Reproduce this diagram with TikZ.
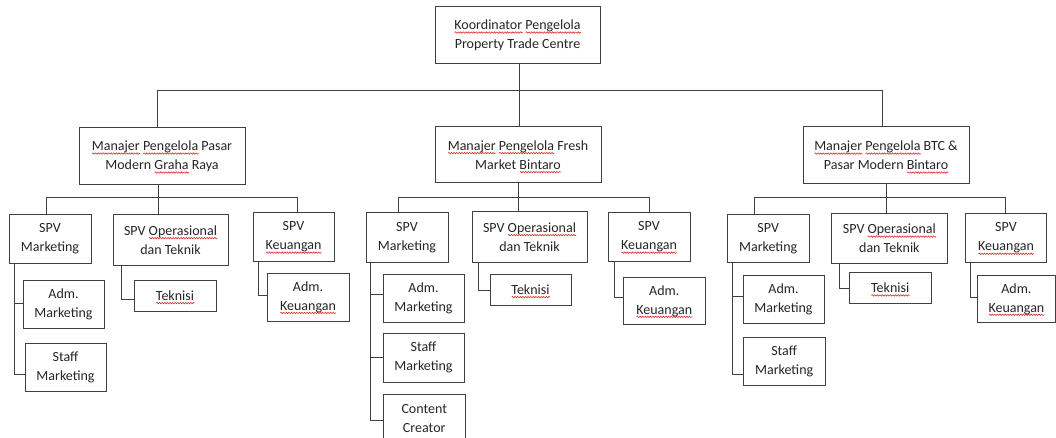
\documentclass[tikz,border=0pt]{standalone}
\usepackage{fontspec}
\setmainfont{Carlito}
\usetikzlibrary{decorations.pathmorphing}
\definecolor{linec}{RGB}{64,64,64}
\definecolor{textc}{RGB}{38,38,38}
\definecolor{sqred}{RGB}{225,45,45}
\tikzset{
  box/.style={draw=linec, line width=1pt, fill=white, inner sep=1pt, align=center,
    text=textc, font=\fontsize{14}{19}\selectfont},
  conn/.style={draw=linec, line width=1pt},
  sqline/.style={draw=sqred, line width=0.6pt, decorate,
    decoration={snake, amplitude=0.7pt, segment length=2.6pt}}
}
\newlength\sqw
\newcommand\sq[1]{\settowidth{\sqw}{#1}\rlap{\smash{\tikz[baseline=0pt]\draw[sqline] (0pt,-2.8pt) -- (\sqw,-2.8pt);}}#1}
\newcommand\bx[6]{\node[box,minimum width={#4-#2},minimum height={#5-#3}] (#1) at ({(#2+#4)/2},{(#3+#5)/2}) {#6};}
\begin{document}
\begin{tikzpicture}[x=1pt,y=-1pt]
\useasboundingbox (0,0) rectangle (1056,438);
\clip (0,0) rectangle (1056,438);
% top
\bx{t}{435}{7}{600}{64}{\sq{Koordinator} \sq{Pengelola}\\Property Trade Centre}
\bx{m1}{79}{128}{245}{185}{\sq{Manajer} \sq{Pengelola} Pasar\\Modern \sq{Graha} Raya}
\bx{m2}{435}{127}{601}{183}{\sq{Manajer} \sq{Pengelola} Fresh\\Market \sq{Bintaro}}
\bx{m3}{803}{127}{969}{184}{\sq{Manajer} \sq{Pengelola} BTC \&\\Pasar Modern \sq{Bintaro}}
% group 1
\bx{s1a}{9}{215}{91}{263}{SPV\\Marketing}
\bx{s1b}{113}{215}{228}{265}{SPV \sq{Operasional}\\dan Teknik}
\bx{s1c}{253}{213}{334}{261}{SPV\\\sq{Keuangan}}
\bx{a1}{23}{280}{104}{328}{Adm.\\Marketing}
\bx{f1}{25}{343}{106}{391}{Staff\\Marketing}
\bx{k1}{134}{280}{216}{311}{\sq{Teknisi}}
\bx{q1}{267}{273}{349}{321}{Adm.\\\sq{Keuangan}}
% group 2
\bx{s2a}{366}{213}{448}{262}{SPV\\Marketing}
\bx{s2b}{472}{212}{587}{262}{SPV \sq{Operasional}\\dan Teknik}
\bx{s2c}{608}{213}{690}{261}{SPV\\\sq{Keuangan}}
\bx{a2}{383}{274}{464}{322}{Adm.\\Marketing}
\bx{f2}{383}{333}{464}{382}{Staff\\Marketing}
\node[box,minimum width=81.5,minimum height=48,anchor=north] (c2) at (424.25,394) {Content\\Creator};
\bx{k2}{490}{274}{571}{305}{\sq{Teknisi}}
\bx{q2}{623.5}{277.3}{705}{324.5}{Adm.\\\sq{Keuangan}}
% group 3
\bx{s3a}{727.3}{214.3}{809}{262.3}{SPV\\Marketing}
\bx{s3b}{831.7}{213.7}{947}{263.3}{SPV \sq{Operasional}\\dan Teknik}
\bx{s3c}{965.3}{214}{1046.7}{262.3}{SPV\\\sq{Keuangan}}
\bx{a3}{743}{275.3}{824}{323.3}{Adm.\\Marketing}
\bx{f3}{743.3}{337.7}{825}{385.7}{Staff\\Marketing}
\bx{k3}{849.3}{272.3}{931}{303.3}{\sq{Teknisi}}
\bx{q3}{977.5}{275}{1055.3}{322.7}{Adm.\\\sq{Keuangan}}
% junction coordinates
\coordinate (J) at (519,91);
\coordinate (J1) at (157,91);
\coordinate (J3) at (882,91);
% top connectors
\draw[conn] (t.south -| J) -- (m2.north -| J);
\draw[conn] (m1.north -| J1) -- (J1) -- (J3) -- (m3.north -| J3);
% group 1 connectors
\draw[conn] (m1.south -| 158,0) -- (s1b.north -| 158,0);
\draw[conn] (s1a.north -| 46.7,0) -- (46.7,198) -- (297.3,198) -- (s1c.north -| 297.3,0);
\draw[conn] (s1a.south -| 14.3,0) |- (f1.west |- 0,374);
\draw[conn] (a1.west |- 0,303.3) -- (14.3,303.3);
\draw[conn] (s1b.south -| 121,0) |- (k1.west |- 0,299.3);
\draw[conn] (s1c.south -| 258.7,0) |- (q1.west |- 0,295.7);
% group 2 connectors
\draw[conn] (m2.south -| 518,0) -- (s2b.north -| 518,0);
\draw[conn] (s2a.north -| 398.5,0) -- (398.5,198) -- (649.3,198) -- (s2c.north -| 649.3,0);
\draw[conn] (s2a.south -| 370.3,0) |- (c2.west |- 0,420);
\draw[conn] (a2.west |- 0,294.3) -- (370.3,294.3);
\draw[conn] (f2.west |- 0,357.7) -- (370.3,357.7);
\draw[conn] (s2b.south -| 478.7,0) |- (k2.west |- 0,290);
\draw[conn] (s2c.south -| 614.3,0) |- (q2.west |- 0,297);
% group 3 connectors
\draw[conn] (m3.south -| 886.3,0) -- (s3b.north -| 886.3,0);
\draw[conn] (s3a.north -| 754.7,0) -- (754.7,198) -- (1005,198) -- (s3c.north -| 1005,0);
\draw[conn] (s3a.south -| 732,0) |- (f3.west |- 0,374);
\draw[conn] (a3.west |- 0,296.7) -- (732,296.7);
\draw[conn] (s3b.south -| 839,0) |- (k3.west |- 0,288.3);
\draw[conn] (s3c.south -| 970.7,0) |- (q3.west |- 0,297);
\end{tikzpicture}
\end{document}
